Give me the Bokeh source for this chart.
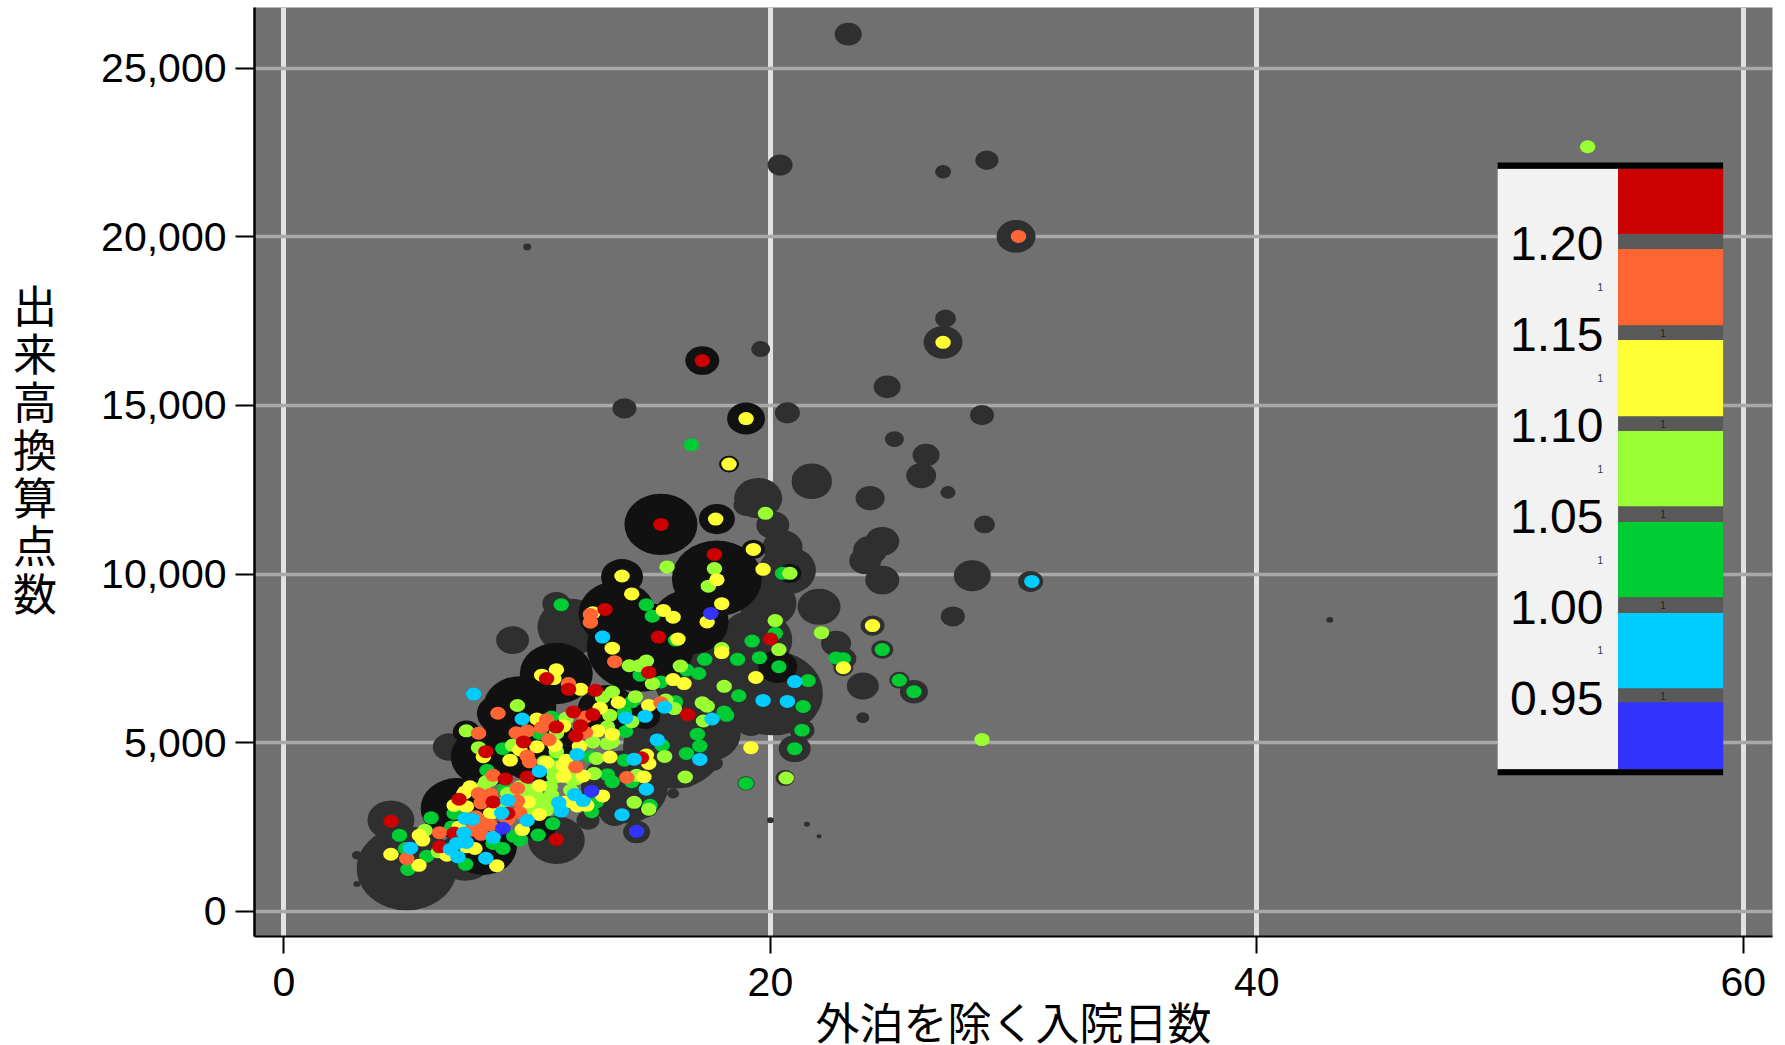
from bokeh.plotting import figure, ColumnDataSource
from bokeh.embed import file_html
from bokeh.resources import INLINE
from bokeh.models import NumeralTickFormatter, FixedTicker, Range1d
from bokeh.core.properties import value

# bubble background: (days, points, bubble size)
gray_bubbles = [
 (23.2,26010,27),(20.4,22130,25),(27.1,21930,16),(28.9,22270,23),(10.0,19700,8),(30.1,20010,39),
 (19.6,16670,19),(27.1,16870,39),(27.2,17580,21),(14.0,14910,24),(20.7,14780,25),(28.7,14710,24),
 (24.8,15550,27),(25.1,14000,19),(26.4,13530,27),(26.2,12920,30),(27.3,12420,15),(21.7,12720,40),
 (24.1,12250,29),(19.5,12250,48),(28.8,11470,21),(24.6,10970,34),(24.1,10700,34),(23.9,10390,32),
 (24.6,9820,34),(28.3,9950,37),(27.5,8740,24),(30.7,9780,25),(23.8,6680,32),(23.8,5740,13),(43.0,8640,7),
 (5.05,1270,100),(4.4,2700,47),(7.45,1610,57),(11.2,2110,57),(3.0,1660,10),(3.0,810,7),(9.4,8040,33),
 (11.2,9120,28),(11.8,8430,67),(19.0,12040,25),(21.7,12780,40),(20.1,11450,33),(20.5,10800,40),
 (20.7,10110,57),(19.9,9125,57),(22.0,9030,43),(19.4,8040,73),(22.7,7940,30),(17.4,6950,107),
 (20.1,6460,100),(16.0,4880,100),(17.4,5270,67),(21.3,5370,25),(21.0,4820,32),(19.0,3790,17),
 (20.6,3950,19),(16.5,3980,25),(16.0,3490,12),(14.5,2350,27),(20.0,2700,7),(21.5,2580,6),(22.0,2220,5),
 (14.0,3690,87),(15.2,3590,27),(13.6,2900,30),(12.5,2700,23),(6.8,4870,33),(17.7,4380,17),(19.2,5570,30),
 (7.8,6440,15),(24.6,7760,22),(25.3,6850,20),(25.9,6510,28),(23.0,7490,26),(24.2,8470,24),(23.0,7220,20),
 (28.7,5090,14),
]
black_bubbles = [
 (15.5,11470,73),(17.8,11630,36),(17.8,9870,90),(19.3,10730,23),(13.9,9920,42),(13.7,8830,77),
 (14.65,7840,107),(16.7,8580,77),(11.2,7050,73),(9.7,6060,73),(8.9,5860,47),(7.5,5320,27),
 (8.3,4580,70),(7.1,3050,72),(10.4,4870,83),(13.3,5960,60),(20.3,7250,39),(14.85,5780,30),
 (20.8,10020,23),(8.2,1910,67),(10.5,2500,33),(15.0,3020,17),(17.2,16330,34),(19.0,14610,38),(18.3,13260,20),
]

red_x = [15.5,17.7,13.2,15.4,20.0,10.8,11.7,12.8,15.0,11.9,12.7,11.2,12.2,12.0,9.85,16.6,8.3,14.7,9.1,10.0,7.2,8.6,9.2,7.0,6.4,4.4,11.2,17.2]
red_y = [11470,10580,8950,8130,8070,6900,6580,6550,7080,5910,5830,5460,5500,5200,5020,5830,4730,4550,3920,3980,3320,3240,2900,2320,1910,2670,2130,16330]
orange_x = [12.6,12.6,13.6,11.7,8.8,8.0,12.4,10.8,10.6,9.55,10.0,10.9,15.5,12.4,10.0,10.1,12.0,8.6,14.1,9.6,8.0,8.5,8.1,9.6,9.7,9.2,8.2,7.9,7.7,8.1,8.5,6.4,5.05,30.2]
orange_y = [8800,8570,7400,6750,5870,5280,5760,5680,5450,5290,5350,5090,6180,5300,4600,4430,4280,4030,3965,3640,3490,3470,3210,3270,2920,2720,2600,2800,2400,2280,2550,2330,1560,20010]
yellow_x = [17.75,19.3,19.7,13.9,14.3,17.8,18.0,15.6,16.0,17.4,12.7,16.2,13.5,18.0,11.2,10.6,11.1,12.2,16.0,16.45,19.4,13.75,15.0,13.0,10.4,11.5,12.9,13.5,12.15,11.15,10.4,9.7,8.2,9.3,13.4,19.2,14.9,15.0,10.8,11.6,11.5,11.6,12.3,14.8,7.65,7.45,7.0,7.5,10.5,13.1,10.05,10.5,8.5,12.05,12.45,11.6,9.8,5.57,5.7,4.4,5.55,8.75,7.85,7.5,6.7,7.2,19.0,18.3,27.1,24.2,23.0,11.5,7.4]
yellow_y = [11630,10730,10140,9940,9410,9830,9120,8920,8720,8580,8850,8070,7800,7670,7160,7000,6900,6580,6870,6750,6930,6190,6100,6020,5700,5490,5350,5250,4890,4920,4880,4780,4580,4480,4570,4850,4630,4380,4410,4480,4000,4280,4010,3980,3690,3540,3140,3100,3720,3420,3240,2870,2900,3120,3140,3240,2420,2250,2110,1690,1360,1350,1860,1910,1660,2500,14610,13260,16870,8470,7220,4330,3490]
lime_x = [19.8,15.75,17.7,17.45,20.8,20.2,20.35,22.1,18.0,14.2,14.6,14.9,16.3,15.15,13.5,13.1,14.45,9.6,18.1,17.2,17.4,17.25,16.05,15.7,13.4,14.3,11.6,13.3,11.2,12.7,13.5,13.3,9.4,11.2,8.0,7.5,12.85,15.65,10.7,11.1,12.75,11.2,14.5,12.0,16.5,20.65,8.3,10.4,11.0,10.0,10.5,10.1,10.8,14.4,15.0,5.8,6.35,8.9,9.4,11.8,53.6,28.7,10.4,10.8,10.95,10.1,10.5,11.1,11.5,11.8,11.2,8.5,8.2,9.2,12.05,12.75,9.7,9.45]
lime_y = [11800,10210,10160,9640,10020,8620,7760,8260,7790,7280,7280,7420,7270,6750,6500,6340,6360,6100,6670,6180,6080,5640,6010,6260,5810,5620,5720,5470,5270,5020,5020,4970,4920,4730,4850,5350,4530,4590,4430,4180,4080,3980,4030,3930,3980,3950,3840,3390,3440,3490,3190,3050,3000,3230,3020,2400,1760,3190,3390,3590,22670,5090,3390,3190,3690,3590,3095,3985,4180,3935,4280,3885,3690,3490,3935,4085,3690,3390]
green_x = [11.4,14.9,15.15,20.5,16.1,17.3,18.65,19.55,19.25,20.2,20.35,22.7,17.05,16.55,14.65,15.5,21.55,18.7,21.35,18.1,18.2,16.1,14.0,11.0,14.3,21.3,21.0,17.0,17.1,16.55,14.05,15.55,9.0,10.5,12.6,14.0,8.35,11.1,13.3,13.5,14.3,19.0,9.1,15.05,12.65,12.85,11.05,7.0,6.05,4.75,10.45,9.45,9.7,9.0,8.6,5.1,5.87,7.47,6.9,5.0,16.75,24.6,25.3,25.9,23.0]
green_y = [9090,9090,8750,10020,8040,7470,7470,7520,8010,8240,7250,7510,7050,7150,7000,6800,6840,6390,6070,5910,5810,6210,5910,5760,6210,5370,4820,5250,4900,4680,5330,4920,4820,5270,4580,4480,4180,4480,4050,3840,3840,3790,3640,3140,2950,3240,2600,2900,2770,2250,2260,2220,2110,1860,2010,1240,1630,1390,2500,1860,13830,7760,6850,6510,7490]
cyan_x = [13.1,7.8,9.8,14.05,14.85,15.65,21.0,19.7,20.7,17.6,15.35,12.05,14.4,17.1,10.5,14.9,11.95,12.3,11.3,11.4,9.2,8.95,7.45,7.75,10.0,13.9,7.4,8.6,7.5,7.1,6.85,7.15,5.2,8.3,30.75]
cyan_y = [8130,6440,5700,5730,5780,6050,6810,6250,6220,5700,5080,4650,4510,4500,4150,3620,3460,3280,3220,2970,3290,2910,2750,2730,2690,2860,2320,2190,2040,2010,1840,1610,1870,1570,9780]
blue_x = [17.55,12.65,9.0,14.5]
blue_y = [8830,3560,2460,2370]

x_ticks = [0, 20, 40, 60]
y_ticks = [0, 5000, 10000, 15000, 20000, 25000]
y_title = "出来高換算点数"
x_title = "外泊を除く入院日数"

legend_labels = ["1.20", "1.15", "1.10", "1.05", "1.00", "0.95"]
legend_label_y = [19790, 17090, 14410, 11720, 9020, 6320]
legend_colors = ["#cc0000", "#ff6633", "#ffff33", "#99ff33", "#00cc33", "#00ccff", "#3333ff"]
legend_top = [22020, 19640, 16940, 14240, 11540, 8840, 6200]
legend_bottom = [20080, 17380, 14680, 12010, 9310, 6610, 4210]
tiny_gap_y = [17160, 14440, 11770, 9080, 6380]
tiny_side_y = [18510, 15810, 13110, 10410, 7740]

FONT = "Liberation Sans"
CJK = "Noto Sans CJK JP"
BG = "#707070"
ASPECT = 0.84

p = figure(width=1775, height=1054, output_backend="svg", toolbar_location=None,
           x_range=Range1d(-1.21, 61.2), y_range=Range1d(-750, 26800),
           min_border_top=7, min_border_left=254, min_border_right=3, min_border_bottom=118,
           background_fill_color=BG, border_fill_color="white", outline_line_color=None)

p.xaxis.ticker = FixedTicker(ticks=x_ticks)
p.yaxis.ticker = FixedTicker(ticks=y_ticks)
p.xgrid.ticker = FixedTicker(ticks=x_ticks)
p.ygrid.ticker = FixedTicker(ticks=y_ticks)
p.yaxis.formatter = NumeralTickFormatter(format="0,0")
p.xgrid.grid_line_color = "#e2e2e2"; p.xgrid.grid_line_width = 5
p.ygrid.grid_line_color = "#a8a8a8"; p.ygrid.grid_line_width = 3.5

for ax in (p.xaxis, p.yaxis):
    ax.axis_line_color = "black"
    ax.major_tick_line_color = "black"
    ax.major_tick_line_width = 2
    ax.minor_tick_line_color = None
    ax.major_tick_in = 0
    ax.major_label_text_font = FONT
    ax.major_label_text_font_size = "41px"
    ax.major_label_text_color = "black"
    ax.axis_label_text_font = CJK
    ax.axis_label_text_font_style = "normal"
    ax.axis_label_text_font_size = "44px"
    ax.axis_label_text_color = "black"
p.yaxis.axis_line_width = 2.5
p.xaxis.axis_line_width = 2
p.yaxis.major_tick_out = 19
p.xaxis.major_tick_out = 17
p.yaxis.major_label_standoff = 9
p.xaxis.major_label_standoff = 14
p.yaxis.axis_label = "\n".join(y_title) + "\n"
p.yaxis.axis_label_orientation = "horizontal"
p.yaxis.axis_label_standoff = 41
p.yaxis.axis_label_text_line_height = 0.75
p.xaxis.axis_label = x_title
p.xaxis.axis_label_text_font = "Liberation Sans, Noto Sans CJK JP"
p.xaxis.axis_label_standoff = 1


def bubbles(rows, color):
    src = ColumnDataSource(dict(x=[r[0] for r in rows], y=[r[1] for r in rows],
                                w=[r[2] for r in rows], h=[r[2] * ASPECT for r in rows]))
    p.ellipse("x", "y", width="w", height="h", width_units="screen", height_units="screen",
              source=src, fill_color=color, line_color=None)


bubbles(gray_bubbles, "#2f2f2f")
bubbles(black_bubbles, "#111111")

for xs, ys, col in [(green_x, green_y, "#00cc33"), (lime_x, lime_y, "#99ff33"), (yellow_x, yellow_y, "#ffff33"),
                    (orange_x, orange_y, "#ff6633"), (red_x, red_y, "#cc0000"), (cyan_x, cyan_y, "#00ccff"),
                    (blue_x, blue_y, "#3333ff")]:
    src = ColumnDataSource(dict(x=xs, y=ys))
    p.ellipse("x", "y", width=15.5, height=13, width_units="screen", height_units="screen",
              source=src, fill_color=col, line_color=None)

# legend
LX0, LX1, LX2 = 49.9, 54.85, 59.17
p.quad(left=[LX0], right=[LX2], top=[22020], bottom=[4210], fill_color="#595959", line_color=None)
p.quad(left=[LX0], right=[LX1], top=[22020], bottom=[4210], fill_color="#f2f2f2", line_color=None)
p.quad(left=[LX1] * 7, right=[LX2] * 7, top=legend_top, bottom=legend_bottom, fill_color=legend_colors, line_color=None)
p.quad(left=[LX0, LX0], right=[LX2, LX2], top=[22200, 4210], bottom=[22020, 4030], fill_color="black", line_color=None)
p.text(x=[54.25] * 6, y=legend_label_y, text=legend_labels, text_align="right", text_baseline="middle",
       text_font=value(FONT), text_font_size="48px", text_color="black")
p.text(x=[56.7] * 5, y=tiny_gap_y, text=["1"] * 5, text_align="center", text_baseline="middle",
       text_font=value(FONT), text_font_size="10px", text_color="#222222")
p.text(x=[54.12] * 5, y=tiny_side_y, text=["1"] * 5, text_align="center", text_baseline="middle",
       text_font=value(FONT), text_font_size="10px", text_color="#333333")

open("out.html", "w").write(file_html(p, INLINE))
